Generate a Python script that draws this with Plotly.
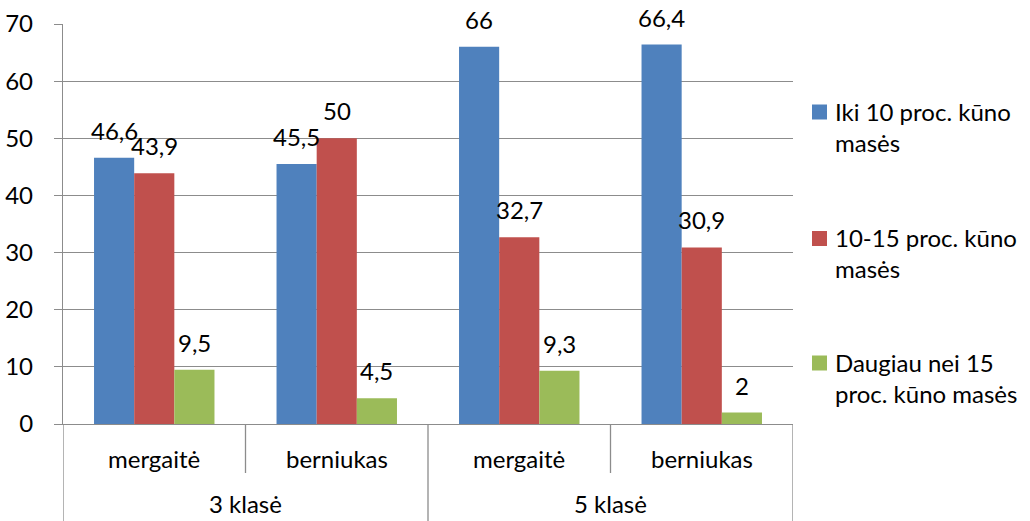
import plotly.graph_objects as go

# Survey data: share of pupils by schoolbag weight relative to body mass
classes = ["3 klasė", "3 klasė", "5 klasė", "5 klasė"]
genders = ["mergaitė", "berniukas", "mergaitė", "berniukas"]
series_names = [
    "Iki 10 proc. kūno<br>masės",
    "10-15 proc. kūno<br>masės",
    "Daugiau nei 15<br>proc. kūno masės",
]
series_values = [
    [46.6, 45.5, 66.0, 66.4],
    [43.9, 50.0, 32.7, 30.9],
    [9.5, 4.5, 9.3, 2.0],
]
colors = ["#4F81BD", "#C0504D", "#9BBB59"]
y_ticks = [0, 10, 20, 30, 40, 50, 60, 70]

FONT = "Lato"
FS = 24
GRID = "#8C8C8C"
BARGAP = 0.34

def fmt(v):
    s = f"{v:.1f}".rstrip("0").rstrip(".")
    return s.replace(".", ",")

xpos = list(range(len(genders)))
n_series = len(series_values)
bar_w = (1 - BARGAP) / n_series

fig = go.Figure()
for k, (name, vals, col) in enumerate(zip(series_names, series_values, colors)):
    fig.add_trace(go.Bar(
        x=xpos, y=vals, name=name.replace("<br>", " "),
        marker=dict(color=col, line=dict(width=0)),
        showlegend=False,
    ))

annotations = []
# value labels above each bar
for k, vals in enumerate(series_values):
    for i, v in enumerate(vals):
        annotations.append(dict(
            x=i + (k - (n_series - 1) / 2) * bar_w, y=v, xref="x", yref="y",
            text=fmt(v), showarrow=False, yanchor="bottom", yshift=11,
            font=dict(family=FONT, size=FS, color="#000000"),
        ))

# inner category labels
for i, g in enumerate(genders):
    annotations.append(dict(
        x=i, y=-0.085, xref="x", yref="paper", text=g, showarrow=False,
        yanchor="middle", font=dict(family=FONT, size=FS, color="#000000"),
    ))

# outer group labels and group spans
groups = []
for i, c in enumerate(classes):
    if groups and groups[-1][0] == c:
        groups[-1][2] = i
    else:
        groups.append([c, i, i])
for c, a, b in groups:
    annotations.append(dict(
        x=(a + b) / 2, y=-0.238, xref="x", yref="paper", text=c, showarrow=False,
        yanchor="bottom", borderpad=0,
        font=dict(family=FONT, size=FS, color="#000000"),
    ))

shapes = []
# dividers below the axis
group_edges = {a - 0.5 for _, a, _ in groups} | {b + 0.5 for _, _, b in groups}
for i in range(len(genders) + 1):
    xv = i - 0.5
    full = xv in group_edges
    shapes.append(dict(
        type="line", xref="x", yref="paper", x0=xv, x1=xv,
        y0=0, y1=-0.26 if full else -0.1225,
        line=dict(color=GRID, width=1.3),
    ))

# legend drawn as squares with text beside them
legend_centers = [0.78, 0.4638, 0.1525]
for name, col, yc in zip(series_names, colors, legend_centers):
    shapes.append(dict(
        type="rect", xref="paper", yref="paper",
        xsizemode="pixel", ysizemode="pixel",
        xanchor=1.0, yanchor=yc, x0=19, x1=34, y0=-7.5, y1=7.5,
        fillcolor=col, line=dict(width=0),
    ))
    annotations.append(dict(
        x=1.0, y=yc, xref="paper", yref="paper", xshift=40, yshift=17,
        text=name, showarrow=False, xanchor="left", yanchor="top", align="left",
        font=dict(family=FONT, size=FS, color="#000000"),
    ))

fig.update_layout(
    width=1030, height=521,
    margin=dict(l=63, r=237, t=24, b=97),
    paper_bgcolor="white", plot_bgcolor="white",
    barmode="group", bargap=BARGAP, bargroupgap=0,
    font=dict(family=FONT, size=FS, color="#000000"),
    annotations=annotations, shapes=shapes,
    showlegend=False,
)
fig.update_xaxes(
    range=[-0.5, len(genders) - 0.5], showticklabels=False, showgrid=False,
    zeroline=False, showline=True, linecolor=GRID, linewidth=1.3, ticks="",
    automargin=False,
)
fig.update_yaxes(
    range=[0, 70], tickvals=y_ticks, ticktext=[str(t) for t in y_ticks],
    showgrid=True, gridcolor=GRID, gridwidth=1.3, zeroline=False,
    showline=True, linecolor=GRID, linewidth=1.3,
    ticks="outside", ticklen=8, tickcolor=GRID, tickwidth=1.3,
    ticklabelstandoff=16, tickfont=dict(family=FONT, size=FS, color="#000000"),
    automargin=False,
)

fig.write_html("out.html")
